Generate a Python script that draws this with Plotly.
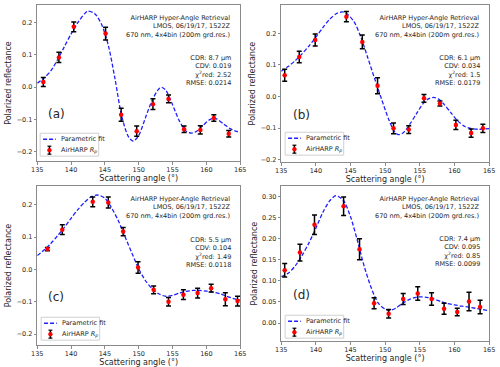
import plotly.graph_objects as go

# ---------------------------------------------------------------------------
# Data
# ---------------------------------------------------------------------------
panels = ["a", "b", "c", "d"]

# AirHARP Rp measurements (angle, value, error)
obs_x_a = [135.9, 138.2, 140.4, 145.1, 147.4, 149.7, 152.1, 154.4, 156.7, 159.1, 161.1, 163.3]
obs_y_a = [0.016, 0.092, 0.187, 0.166, -0.086, -0.137, -0.053, -0.037, -0.131, -0.133, -0.096, -0.145]
obs_e_a = [0.014, 0.016, 0.015, 0.020, 0.020, 0.016, 0.017, 0.012, 0.010, 0.013, 0.010, 0.010]

obs_x_b = [135.5, 137.6, 139.9, 144.4, 146.7, 148.9, 151.2, 153.4, 155.6, 157.9, 160.2, 162.4, 164.1]
obs_y_b = [0.067, 0.125, 0.179, 0.253, 0.173, 0.034, -0.101, -0.105, -0.006, -0.022, -0.090, -0.116, -0.101]
obs_e_b = [0.019, 0.018, 0.019, 0.016, 0.022, 0.025, 0.017, 0.012, 0.012, 0.008, 0.015, 0.013, 0.013]

obs_x_c = [136.5, 138.7, 143.2, 145.5, 147.7, 149.9, 152.2, 154.4, 156.6, 158.7, 160.7, 162.8, 164.6]
obs_y_c = [0.063, 0.123, 0.209, 0.207, 0.117, 0.006, -0.063, -0.100, -0.078, -0.073, -0.058, -0.092, -0.098]
obs_e_c = [0.005, 0.015, 0.015, 0.017, 0.013, 0.018, 0.012, 0.013, 0.015, 0.015, 0.012, 0.020, 0.015]

obs_x_d = [135.5, 137.7, 139.8, 144.0, 146.3, 148.4, 150.5, 152.6, 154.7, 156.7, 158.5, 160.4, 162.1, 163.7]
obs_y_d = [0.125, 0.167, 0.233, 0.277, 0.175, 0.047, 0.022, 0.057, 0.070, 0.057, 0.034, 0.026, 0.051, 0.038]
obs_e_d = [0.016, 0.020, 0.023, 0.022, 0.025, 0.013, 0.010, 0.013, 0.016, 0.015, 0.013, 0.009, 0.022, 0.016]

# Parametric fit curves
fit_x_a = [135, 136, 137, 138, 139, 140, 141, 142, 142.5, 143.5, 144.5, 145.5, 146.5, 147.5, 148.5,
           149.2, 150, 151, 152, 153, 153.4, 154, 155, 156, 157, 157.8, 158.5, 159.5, 160.5, 161,
           161.5, 162.5, 163.5, 164.3, 165]
fit_y_a = [0.012, 0.028, 0.050, 0.085, 0.125, 0.165, 0.200, 0.228, 0.236, 0.228, 0.195, 0.130, 0.025,
           -0.092, -0.155, -0.168, -0.150, -0.095, -0.040, -0.005, -0.001, -0.010, -0.055, -0.105,
           -0.137, -0.143, -0.138, -0.119, -0.101, -0.097, -0.099, -0.114, -0.129, -0.137, -0.140]

fit_x_b = [135, 136, 137, 138, 139, 140, 141, 142, 143, 143.8, 144.5, 145.5, 146.5, 147.5, 148.5,
           149.5, 150.5, 151.3, 151.9, 152.6, 153.5, 154.5, 155.5, 156.3, 157, 157.7, 158.5, 159.5,
           160.5, 161.5, 162.5, 163.5, 164.3, 165]
fit_y_b = [0.080, 0.095, 0.113, 0.135, 0.160, 0.188, 0.218, 0.245, 0.263, 0.268, 0.262, 0.237, 0.188,
           0.122, 0.055, -0.010, -0.072, -0.110, -0.121, -0.115, -0.090, -0.055, -0.022, -0.007,
           -0.003, -0.008, -0.025, -0.052, -0.078, -0.095, -0.102, -0.104, -0.103, -0.102]

fit_x_c = [135, 136, 137, 138, 139, 140, 141, 142, 143, 144, 145, 146, 147, 148, 149, 150, 151, 152,
           153, 154, 155, 156, 157, 158, 159, 160, 161, 162, 163, 164, 165]
fit_y_c = [0.043, 0.060, 0.080, 0.104, 0.130, 0.158, 0.185, 0.208, 0.225, 0.230, 0.220, 0.190, 0.150,
           0.100, 0.050, 0.002, -0.035, -0.060, -0.076, -0.083, -0.080, -0.073, -0.068, -0.065,
           -0.065, -0.067, -0.070, -0.075, -0.083, -0.090, -0.095]

fit_x_d = [135, 136, 137, 138, 139, 140, 141, 142, 142.9, 144, 145, 146, 147, 148, 149, 150, 150.7,
           151.5, 152.5, 153.5, 154.5, 155.2, 156, 157, 158, 159, 160, 161, 162, 163, 164, 165]
fit_y_d = [0.110, 0.118, 0.135, 0.160, 0.190, 0.225, 0.262, 0.290, 0.302, 0.290, 0.252, 0.195, 0.133,
           0.083, 0.047, 0.033, 0.030, 0.035, 0.047, 0.056, 0.061, 0.062, 0.061, 0.057, 0.051, 0.046,
           0.043, 0.040, 0.038, 0.035, 0.032, 0.029]

cdr_um = ["8.7", "6.1", "5.5", "7.4"]
cdv = ["0.019", "0.034", "0.104", "0.095"]
chi2_red = ["2.52", "1.5", "1.49", "0.85"]
rmse = ["0.0214", "0.0179", "0.0118", "0.0099"]

obs = {
    "a": (obs_x_a, obs_y_a, obs_e_a), "b": (obs_x_b, obs_y_b, obs_e_b),
    "c": (obs_x_c, obs_y_c, obs_e_c), "d": (obs_x_d, obs_y_d, obs_e_d),
}
fits = {"a": (fit_x_a, fit_y_a), "b": (fit_x_b, fit_y_b), "c": (fit_x_c, fit_y_c), "d": (fit_x_d, fit_y_d)}

# ---------------------------------------------------------------------------
# Layout geometry (pixels -> paper)
# ---------------------------------------------------------------------------
W, H = 500, 367
boxes = {  # left, right, top, bottom in pixels
    "a": (32, 240, 5, 162),
    "b": (282, 495, 5, 163),
    "c": (32, 240, 187, 347),
    "d": (282, 495, 187, 343),
}
yranges = {"a": [-0.23, 0.255], "b": [-0.208, 0.29], "c": [-0.234, 0.258], "d": [-0.043, 0.325]}
legend_box = {  # left, top in pixels
    "a": (35, 134), "b": (286, 133), "c": (36, 319), "d": (286, 317),
}

FONT = "DejaVu Sans"
FRAME = "#8a8a8a"
TXT = "#262626"
FIT_COLOR = "#1f1fff"


def px(x):
    return x / W


def py(y):
    return 1 - y / H


fig = go.Figure()
layout = dict(
    width=W, height=H,
    margin=dict(l=0, r=0, t=0, b=0),
    paper_bgcolor="white", plot_bgcolor="white",
    font=dict(family=FONT, size=7, color=TXT),
    showlegend=False,
    annotations=[], shapes=[],
)

for i, p in enumerate(panels):
    n = "" if i == 0 else str(i + 1)
    xa, ya = "x" + n, "y" + n
    l, r, t, b = boxes[p]

    fx, fy = fits[p]
    fig.add_trace(go.Scatter(
        x=fx, y=fy, mode="lines", name="Parametric fit",
        line=dict(color=FIT_COLOR, width=1.3, dash="4px,2px", shape="spline", smoothing=0.8),
        xaxis=xa, yaxis=ya,
    ))
    ox, oy, oe = obs[p]
    fig.add_trace(go.Scatter(
        x=ox, y=oy, mode="markers", name="AirHARP Rp",
        marker=dict(color="#ff0000", size=4.5, symbol="circle"),
        error_y=dict(type="data", array=oe, color="black", thickness=1.5, width=2.5),
        xaxis=xa, yaxis=ya,
    ))

    axis_common = dict(
        showline=True, mirror=True, linecolor=FRAME, linewidth=1,
        ticks="outside", ticklen=2.5, tickcolor=FRAME, tickwidth=1,
        showgrid=False, zeroline=False,
        tickfont=dict(family=FONT, size=6.5, color=TXT),
    )
    layout["xaxis" + n] = dict(
        axis_common, domain=[px(l), px(r)], anchor=ya, range=[135, 165],
        tickmode="array", tickvals=[135, 140, 145, 150, 155, 160, 165],
        title=dict(text="Scattering angle (°)", font=dict(size=8, color=TXT), standoff=0),
    )
    if p == "d":
        yt = dict(tickvals=[0.0, 0.05, 0.10, 0.15, 0.20, 0.25, 0.30], tickformat=".2f")
    else:
        yt = dict(tickvals=[-0.2, -0.1, 0.0, 0.1, 0.2], tickformat=".1f")
    layout["yaxis" + n] = dict(
        axis_common, domain=[py(b), py(t)], anchor=xa, range=yranges[p],
        tickmode="array", **yt,
        title=dict(text="Polarized reflectance", font=dict(size=8, color=TXT), standoff=3),
    )

    # info text, top right
    layout["annotations"] += [
        dict(
            xref=xa + " domain", yref=ya + " domain", x=0.965, y=0.955,
            xanchor="right", yanchor="top", align="right", showarrow=False,
            text="AirHARP Hyper-Angle Retrieval<br>LMOS, 06/19/17, 1522Z<br>670 nm, 4x4bin (200m grd.res.)",
            font=dict(family=FONT, size=6.5, color=TXT),
        ),
        dict(
            xref=xa + " domain", yref=ya + " domain", x=0.965, y=0.70,
            xanchor="right", yanchor="top", align="right", showarrow=False,
            text=f"CDR: {cdr_um[i]} μm<br>CDV: {cdv[i]}<br>χ<sup>2</sup>red: {chi2_red[i]}<br>RMSE: {rmse[i]}",
            font=dict(family=FONT, size=6.5, color=TXT),
        ),
        dict(
            xref=xa + " domain", yref=ya + " domain", x=0.045, y=0.30,
            xanchor="left", yanchor="middle", showarrow=False,
            text=f"({p})", font=dict(family=FONT, size=12, color=TXT),
        ),
    ]

    # hand-drawn legend, lower left (matplotlib style)
    lx, ly = legend_box[p]
    lw, lh = 60, 23
    row1, row2 = ly + 6, ly + 17
    layout["shapes"] += [
        dict(type="rect", xref="paper", yref="paper",
             x0=px(lx), x1=px(lx + lw), y0=py(ly + lh), y1=py(ly),
             line=dict(color="#d0d0d0", width=1), fillcolor="rgba(255,255,255,0.85)"),
        dict(type="line", xref="paper", yref="paper",
             x0=px(lx + 3), x1=px(lx + 16), y0=py(row1), y1=py(row1),
             line=dict(color=FIT_COLOR, width=1.3, dash="4px,2px")),
        dict(type="line", xref="paper", yref="paper",
             x0=px(lx + 9.5), x1=px(lx + 9.5), y0=py(row2 - 4), y1=py(row2 + 4),
             line=dict(color="black", width=1.5)),
        dict(type="line", xref="paper", yref="paper",
             x0=px(lx + 7.5), x1=px(lx + 11.5), y0=py(row2 - 4), y1=py(row2 - 4),
             line=dict(color="black", width=1.2)),
        dict(type="line", xref="paper", yref="paper",
             x0=px(lx + 7.5), x1=px(lx + 11.5), y0=py(row2 + 4), y1=py(row2 + 4),
             line=dict(color="black", width=1.2)),
        dict(type="circle", xref="paper", yref="paper",
             x0=px(lx + 7.5), x1=px(lx + 11.5), y0=py(row2 + 2), y1=py(row2 - 2),
             line=dict(color="#ff0000", width=0.5), fillcolor="#ff0000"),
    ]
    layout["annotations"] += [
        dict(xref="paper", yref="paper", x=px(lx + 19), y=py(row1),
             xanchor="left", yanchor="middle", showarrow=False,
             text="Parametric fit", font=dict(family=FONT, size=6.5, color=TXT)),
        dict(xref="paper", yref="paper", x=px(lx + 19), y=py(row2),
             xanchor="left", yanchor="middle", showarrow=False,
             text="AirHARP <i>R</i><sub><i>p</i></sub>", font=dict(family=FONT, size=6.5, color=TXT)),
    ]

fig.update_layout(**layout)
# drop the browser's default body margin so the 500x367 figure fills the window
fig.write_html(
    "out.html",
    config={"displayModeBar": False},
    post_script="document.body.style.margin='0';",
)
